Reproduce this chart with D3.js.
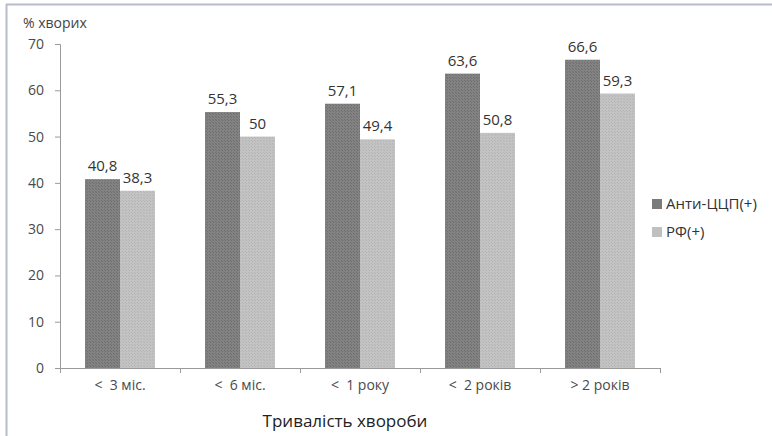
<!DOCTYPE html>
<html><head><meta charset="utf-8">
<script src="https://cdn.jsdelivr.net/npm/d3@7"></script>
<style>body{margin:0;background:#fff}svg{display:block}text{font-family:"Open Sans",sans-serif}</style>
</head><body>
<svg id="c" width="772" height="436"></svg>
<script>
const categories = ["<  3 міс.", "<  6 міс.", "<  1 року", "<  2 років", "> 2 років"];
const seriesNames = ["Анти-ЦЦП(+)", "РФ(+)"];
const antiCCP = [40.8, 55.3, 57.1, 63.6, 66.6];
const rf = [38.3, 50, 49.4, 50.8, 59.3];
const yTicks = [0, 10, 20, 30, 40, 50, 60, 70];
const seriesValues = [antiCCP, rf];

const svg = d3.select("#c");
const defs = svg.append("defs");
function pat(id, base, dot) {
  const p = defs.append("pattern").attr("id", id).attr("width", 3).attr("height", 3).attr("patternUnits", "userSpaceOnUse");
  p.append("rect").attr("width", 3).attr("height", 3).attr("fill", base);
  p.append("rect").attr("x", 0).attr("y", 0).attr("width", 1).attr("height", 1).attr("fill", dot);
  p.append("rect").attr("x", 2).attr("y", 2).attr("width", 1).attr("height", 1).attr("fill", dot);
}
pat("p0", "#828282", "#6e6e6e");
pat("p1", "#c3c3c3", "#b4b4b4");
const fills = ["url(#p0)", "url(#p1)"];
const legendFills = ["#7a7a7a", "#c0c0c0"];

// border
svg.append("line").attr("x1", 6.5).attr("x2", 6.5).attr("y1", 4).attr("y2", 436).attr("stroke", "#b8bccc").attr("stroke-width", 2);
svg.append("line").attr("x1", 6).attr("x2", 772).attr("y1", 4.5).attr("y2", 4.5).attr("stroke", "#b8bccc").attr("stroke-width", 2);

const x0 = d3.scaleBand().domain(categories).range([60, 660]).paddingInner(0).paddingOuter(0);
const x1 = d3.scaleBand().domain([0, 1]).range([25, 95]);
const y = d3.scaleLinear().domain([0, 70]).range([368, 44]);

// y axis
const ya = svg.append("g").attr("transform", "translate(60,0)")
  .call(d3.axisLeft(y).tickValues(yTicks).tickSize(5).tickPadding(11));
ya.select(".domain").attr("stroke", "#9a9a9a");
ya.selectAll(".tick line").attr("stroke", "#9a9a9a");
ya.selectAll(".tick text").attr("fill", "#4a4a4a").attr("font-size", 14);

// bars
const g = svg.append("g");
categories.forEach((c, i) => {
  seriesValues.forEach((vals, s) => {
    const v = vals[i];
    const bx = x0(c) + x1(s);
    g.append("rect").attr("x", bx).attr("y", y(v)).attr("width", x1.bandwidth()).attr("height", y(0) - y(v)).attr("fill", fills[s]);
    g.append("text").attr("x", bx + x1.bandwidth() / 2).attr("y", y(v) - 8).attr("text-anchor", "middle")
      .attr("font-size", 15).attr("fill", "#333").text(String(v).replace(".", ","));
  });
});

// x axis
const xa = svg.append("g").attr("transform", "translate(0,368)")
  .call(d3.axisBottom(x0).tickSize(0).tickPadding(12));
xa.select(".domain").attr("stroke", "#9a9a9a");
xa.selectAll(".tick text").attr("fill", "#4a4a4a").attr("font-size", 14).style("white-space", "pre");
const edges = categories.map(c => x0(c)).concat([x0.range()[1]]);
xa.selectAll(".edge").data(edges).enter().append("line").attr("x1", d => d + 0.5).attr("x2", d => d + 0.5)
  .attr("y1", 0).attr("y2", 5).attr("stroke", "#9a9a9a");

// titles
svg.append("text").attr("x", 23).attr("y", 28).attr("font-size", 14).attr("fill", "#444").text("% хворих");
svg.append("text").attr("x", 345).attr("y", 427).attr("text-anchor", "middle").attr("font-size", 17).attr("fill", "#222").text("Тривалість хвороби");

// legend
seriesNames.forEach((n, s) => {
  const ly = 204 + s * 28;
  svg.append("rect").attr("x", 652).attr("y", ly - 5).attr("width", 10).attr("height", 10).attr("fill", legendFills[s]);
  svg.append("text").attr("x", 666).attr("y", ly + 5).attr("font-size", 15).attr("fill", "#333").text(n);
});
</script>
</body></html>
